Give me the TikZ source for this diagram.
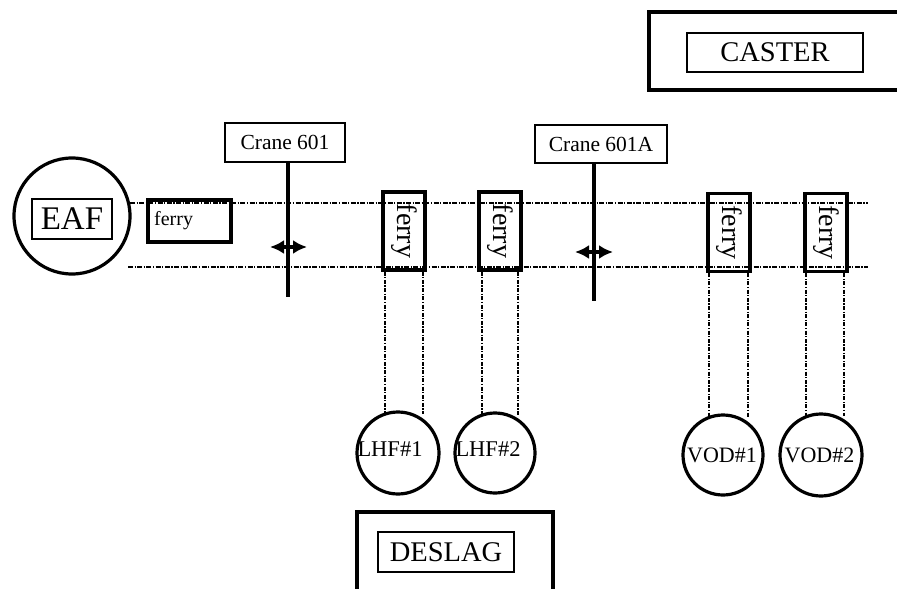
\documentclass[tikz,border=0pt]{standalone}
\usepackage{fontspec}
\setmainfont{Liberation Serif}
\usetikzlibrary{arrows.meta}
\newcommand\fsz[1]{\fontsize{#1}{#1}\selectfont}
\tikzset{
  thickbox/.style={draw, line width=3.5pt, inner sep=0pt},
  thinbox/.style={draw, line width=1.4pt, inner sep=0pt},
  ring/.style={circle, draw, line width=3.2pt, inner sep=0pt},
  rail/.style={line width=1.5pt, dash pattern=on 5pt off 1.5pt on 1.2pt off 1.5pt},
  drop/.style={line width=1.4pt, dash pattern=on 4pt off 1.5pt on 1.2pt off 1.5pt},
  craneline/.style={line width=4pt},
  movearrow/.style={arrows={Latex[length=14pt,width=14pt]-Latex[length=14pt,width=14pt]}, line width=4pt},
  lbl/.style={inner sep=0pt}
}
\begin{document}
\begin{tikzpicture}[x=1pt,y=-1pt]
\useasboundingbox[fill=white] (0,0) rectangle (897,589);
\clip (0,0) rectangle (897,589);

% rails
\coordinate (r1a) at (130,203); \coordinate (r1b) at (868,203);
\coordinate (r2a) at (128,267); \coordinate (r2b) at (868,267);
\draw[rail] (r1a) -- (r1b);
\draw[rail] (r2a) -- (r2b);

% CASTER
\node[thickbox, minimum width=256, minimum height=78] (casterout) at (777,51) {};
\node[thinbox, minimum width=176, minimum height=39, font=\fsz{28.5}] (caster) at (775,52.5) {CASTER};

% EAF
\node[ring, minimum size=116] (eafring) at (72,216) {};
\node[thinbox, minimum width=80, minimum height=40, font=\fsz{33}] (eaf) at (72,219) {EAF};

% horizontal ferry
\node[thickbox, minimum width=83, minimum height=42] (ferry0) at (189.5,221) {};
\node[lbl, anchor=west, font=\fsz{20}] (ferry0t) at (154,221) {ferry};

% cranes
\node[thinbox, minimum width=120, minimum height=39, font=\fsz{21.5}] (c1) at (285,142.5) {Crane 601};
\coordinate (c1b) at (288,297);
\draw[craneline] (c1.south -| c1b) -- (c1b);
\coordinate (a1l) at (270,247); \coordinate (a1r) at (307,247);
\draw[movearrow] (a1l) -- (a1r);

\node[thinbox, minimum width=132, minimum height=38, font=\fsz{21.5}] (c2) at (601,144) {Crane 601A};
\coordinate (c2b) at (594,301);
\draw[craneline] (c2.south -| c2b) -- (c2b);
\coordinate (a2l) at (575,252); \coordinate (a2r) at (613,252);
\draw[movearrow] (a2l) -- (a2r);

% vertical ferries
\node[thickbox, minimum width=42, minimum height=78, font=\fsz{28}] (f1) at (404,231) {\rotatebox{-90}{ferry}};
\node[thickbox, minimum width=42, minimum height=78, font=\fsz{28}] (f2) at (500,231) {\rotatebox{-90}{ferry}};
\node[thickbox, minimum width=42, minimum height=78, font=\fsz{28}] (f3) at (729,232.5) {\rotatebox{-90}{ferry}};
\node[thickbox, minimum width=42, minimum height=78, font=\fsz{28}] (f4) at (826,232.5) {\rotatebox{-90}{ferry}};

% stations
\node[ring, minimum size=82] (l1) at (398,453) {};
\node[ring, minimum size=80] (l2) at (495,453) {};
\node[ring, minimum size=80] (v1) at (723,455) {};
\node[ring, minimum size=82] (v2) at (821,455) {};
\node[lbl, font=\fsz{22.5}] (l1t) at (390,449) {LHF\#1};
\node[lbl, font=\fsz{22.5}] (l2t) at (488,449) {LHF\#2};
\node[lbl, font=\fsz{22}] (v1t) at (722,455) {VOD\#1};
\node[lbl, font=\fsz{22}] (v2t) at (819.5,455) {VOD\#2};

% drops
\coordinate (d1a) at ([xshift=-19pt]f1.south); \coordinate (d1b) at ([xshift=19pt]f1.south);
\coordinate (d2a) at ([xshift=-18pt]f2.south); \coordinate (d2b) at ([xshift=18pt]f2.south);
\coordinate (d3a) at ([xshift=-20pt]f3.south); \coordinate (d3b) at ([xshift=19pt]f3.south);
\coordinate (d4a) at ([xshift=-20pt]f4.south); \coordinate (d4b) at ([xshift=18pt]f4.south);
\draw[drop] (d1a) -- ([yshift=-3pt]d1a |- l1.north);
\draw[drop] (d1b) -- ([yshift=-4pt]d1b |- l1.north);
\draw[drop] (d2a) -- ([yshift=-3pt]d2a |- l2.north);
\draw[drop] (d2b) -- ([yshift=-4pt]d2b |- l2.north);
\draw[drop] (d3a) -- ([yshift=-4pt]d3a |- v1.north);
\draw[drop] (d3b) -- ([yshift=-4pt]d3b |- v1.north);
\draw[drop] (d4a) -- ([yshift=-4pt]d4a |- v2.north);
\draw[drop] (d4b) -- ([yshift=-4pt]d4b |- v2.north);

% DESLAG
\node[thickbox, minimum width=196, minimum height=100] (deslagout) at (455,562) {};
\node[thinbox, minimum width=136, minimum height=40, font=\fsz{28.5}] (deslag) at (446,552) {DESLAG};
\end{tikzpicture}
\end{document}
